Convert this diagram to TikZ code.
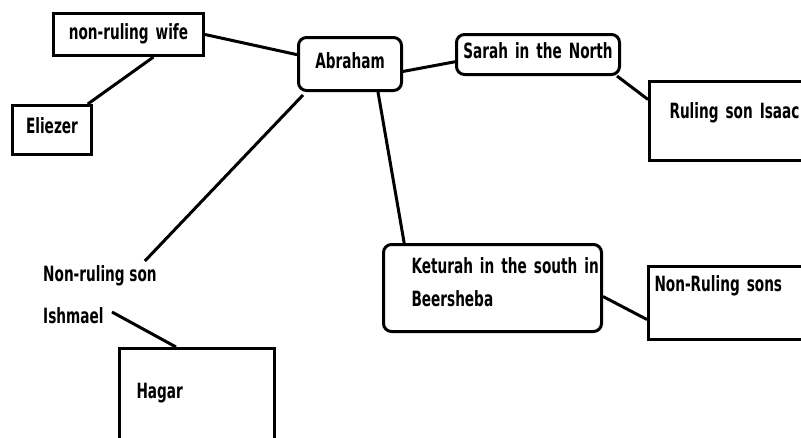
\documentclass[tikz,border=0pt]{standalone}
\usepackage{fontspec}
\setmainfont{DejaVu Sans}[FakeStretch=0.65]
\begin{document}
\begin{tikzpicture}[x=1pt,y=-1pt,
        box/.style={draw,line width=3pt,anchor=north west,inner ysep=0pt,align=left,
            font=\fontsize{21}{33}\selectfont\bfseries},
        roundbox/.style={box,rounded corners=8pt},
        link/.style={line width=3pt}]
        \useasboundingbox [fill=white] (0,0) rectangle (801,437);
        \node [box,align=center,inner xsep=8pt,text width=134pt,text height=26pt,text depth=16pt] (wife) at (52,12) {non-ruling wife};
        \node [box,align=center,inner xsep=8pt,text width=63pt,text height=28pt,text depth=21pt] (eliezer) at (11,104) {Eliezer};
        \node [roundbox,align=center,inner xsep=8pt,text width=87pt,text height=31pt,text depth=22pt] (abraham) at (297,36) {Abraham};
        \node [roundbox,align=center,inner xsep=2pt,text width=159pt,text height=24pt,text depth=16pt] (sarah) at (455,33) {Sarah in the North};
        \node [box,inner xsep=20pt,text width=170pt,text height=37pt,text depth=42pt] (isaac) at (648,80) {Ruling son Isaac};
        \node [roundbox,inner xsep=28pt,text width=162pt,text height=29pt,text depth=58pt] (keturah) at (382,243) {\mbox{Keturah in the south in}\\Beersheba};
        \node [box,inner xsep=6pt,text width=180pt,text height=25pt,text depth=48pt] (sons) at (647,265) {Non-Ruling sons};
        \node [box,inner xsep=17pt,text width=121pt,text height=50pt,text depth=63pt] (hagar) at (118,347) {Hagar};
        \node [anchor=north west,inner sep=0pt,align=left,font=\fontsize{21}{33}\selectfont\bfseries] (ishmael) at (43,265) {Non-ruling son\\[9pt]Ishmael};
        % connectors
        \draw [link] (wife.east) -- (abraham.170);
        \draw [link] (wife.-42) -- (eliezer.36);
        \draw [link] (abraham.-8) -- (sarah.185);
        \draw [link] ([xshift=6pt,yshift=-3pt]abraham.south west) -- ([xshift=-12pt,yshift=4pt]ishmael.north east);
        \draw [link] (abraham.-45) -- (keturah.153);
        \draw [link] ([xshift=-4pt]sarah.south east) -- ([yshift=21.5pt]isaac.west);
        \draw [link] ([yshift=-8.5pt]keturah.east) -- ([yshift=-16.5pt]sons.west);
        \draw [link] ([xshift=69pt,yshift=-47pt]ishmael.north west) -- ([xshift=58pt]hagar.north west);
    \end{tikzpicture}
\end{document}
